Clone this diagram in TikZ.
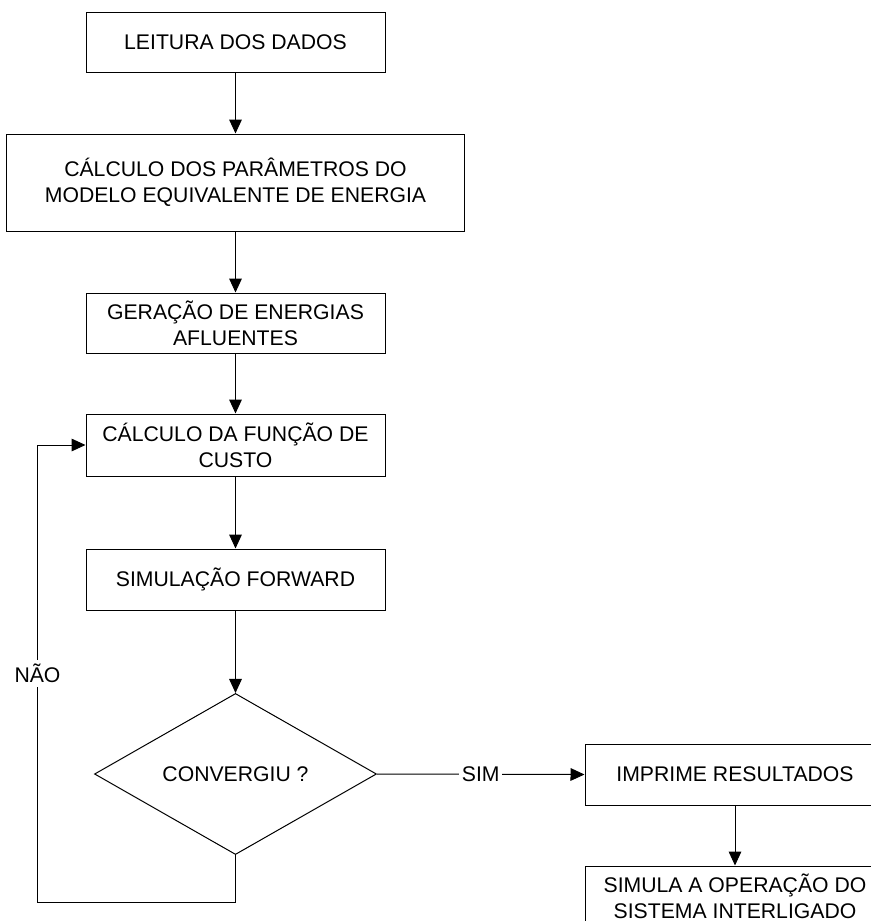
\documentclass[tikz,border=0pt]{standalone}
\usepackage{fontspec}
\setmainfont{Liberation Sans}
\usetikzlibrary{shapes.geometric,arrows.meta}
\begin{document}
\begin{tikzpicture}[x=0.75pt,y=-0.75pt,
  font=\fontsize{15.9pt}{19.3pt}\selectfont,
  proc/.style={draw,line width=0.75pt,align=center,inner sep=0pt,minimum width=299*0.75pt,minimum height=60*0.75pt},
  decision/.style={draw,line width=0.75pt,diamond,inner sep=0pt,minimum width=282*0.75pt,minimum height=158*0.75pt},
  conn/.style={line width=0.75pt,-{Triangle[length=10.5pt,width=9.5pt]}},
  lbl/.style={fill=white,inner sep=2pt}]
\useasboundingbox (0,0) rectangle (871,921);
\node[proc] (b1) at (235.5,42) {LEITURA DOS DADOS};
\node[proc,minimum width=458*0.75pt,minimum height=97*0.75pt] (b2) at (235.5,182.5) {CÁLCULO DOS PARÂMETROS DO\\MODELO EQUIVALENTE DE ENERGIA};
\node[proc] (b3) at (235.5,323) {GERAÇÃO DE ENERGIAS\\AFLUENTES};
\node[proc,minimum height=62*0.75pt] (b4) at (235.5,445) {CÁLCULO DA FUNÇÃO DE\\CUSTO};
\node[proc,minimum height=61*0.75pt] (b5) at (235.5,579.5) {SIMULAÇÃO FORWARD};
\node[decision] (d) at (235.5,774) {CONVERGIU ?};
\node[proc,minimum width=300*0.75pt,minimum height=61*0.75pt] (b6) at (735,774.5) {IMPRIME RESULTADOS};
\node[proc,minimum width=300*0.75pt] (b7) at (735,896) {SIMULA A OPERAÇÃO DO\\SISTEMA INTERLIGADO};
\coordinate (c1) at (235.5,902);
\coordinate (c2) at (37.5,902);
\coordinate (c3) at (37.5,445);
\draw[conn] (b1) -- (b2);
\draw[conn] (b2) -- (b3);
\draw[conn] (b3) -- (b4);
\draw[conn] (b4) -- (b5);
\draw[conn] (b5) -- (d);
\draw[conn] (d.east) -- node[lbl] {SIM} (b6.west);
\draw[conn] (b6) -- (b7);
\draw[conn] (d.south) -- (c1) -- (c2) -- node[lbl,inner sep=3pt] {NÃO} (c3) -- (b4.west);
\end{tikzpicture}
\end{document}
